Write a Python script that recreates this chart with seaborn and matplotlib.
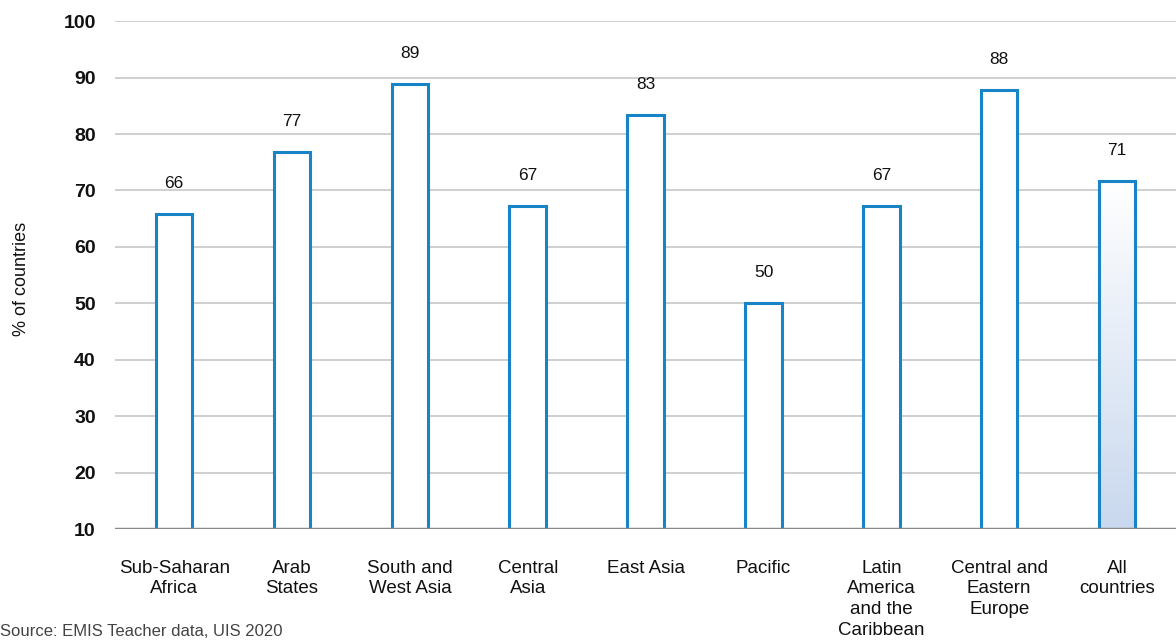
import numpy as np
import pandas as pd
import matplotlib.pyplot as plt
import seaborn as sns
from matplotlib.colors import LinearSegmentedColormap

# Data
regions = ["Sub-Saharan\nAfrica", "Arab\nStates", "South and\nWest Asia", "Central\nAsia",
           "East Asia", "Pacific", "Latin\nAmerica\nand the\nCaribbean",
           "Central and\nEastern\nEurope", "All\ncountries"]
values = [65.8, 76.9, 88.9, 67.3, 83.3, 50.1, 67.2, 87.8, 71.7]
value_labels = ["66", "77", "89", "67", "83", "50", "67", "88", "71"]
y_ticks = [10, 20, 30, 40, 50, 60, 70, 80, 90, 100]

df = pd.DataFrame({"region": regions, "value": values})

sns.set_style("white")
plt.rcParams["font.family"] = ["Liberation Sans", "DejaVu Sans"]

blue = "#1784c7"

fig = plt.figure(figsize=(11.76, 6.42), dpi=100)
ax = fig.add_axes([0.098, 0.176, 0.902, 0.791])

sns.barplot(data=df, x="region", y="value", color="white", width=0.31,
            edgecolor=blue, linewidth=2.2, ax=ax, zorder=3)

# gradient fill on the "All countries" bar
last = ax.patches[-1]
x0, y0 = last.get_x(), 10
w, h = last.get_width(), last.get_height()
grad = LinearSegmentedColormap.from_list("g", ["#c9d8ee", "#ffffff"])
img = ax.imshow(np.linspace(0, 1, 256).reshape(-1, 1), cmap=grad, origin="lower",
                extent=[x0, x0 + w, y0, h], aspect="auto", zorder=2.5)
img.set_clip_path(last)
last.set_facecolor("none")

ax.set_xlim(-0.5, len(regions) - 0.5)
ax.set_ylim(10, 100)
ax.set_yticks(y_ticks)
ax.yaxis.grid(True, color="#cccccc", linewidth=1.3, zorder=0)
ax.axhline(10, color="#8a8a8a", linewidth=2.5, zorder=4)
sns.despine(ax=ax, left=True, bottom=True, right=True, top=True)

ax.tick_params(axis="y", length=0, pad=14, labelsize=14)
for t in ax.get_yticklabels():
    t.set_fontweight("bold")
    t.set_color("#111111")
ax.tick_params(axis="x", length=0, pad=22, labelsize=13.5)
for t in ax.get_xticklabels():
    t.set_linespacing(1.3)
    t.set_verticalalignment("top")
    t.set_color("#111111")

for i, (v, lab) in enumerate(zip(values, value_labels)):
    ax.text(i, v + 5.4, lab, ha="center", va="center", fontsize=12.5, color="#111111")

ax.set_xlabel("")
ax.set_ylabel("")
fig.text(0.018, 0.566, "% of countries", rotation=90, ha="center", va="center",
         fontsize=13, color="#111111")
fig.text(0.0, 0.004, "Source: EMIS Teacher data, UIS 2020", ha="left", va="bottom",
         fontsize=12, color="#444444")

fig.savefig("out.png", dpi=100)
